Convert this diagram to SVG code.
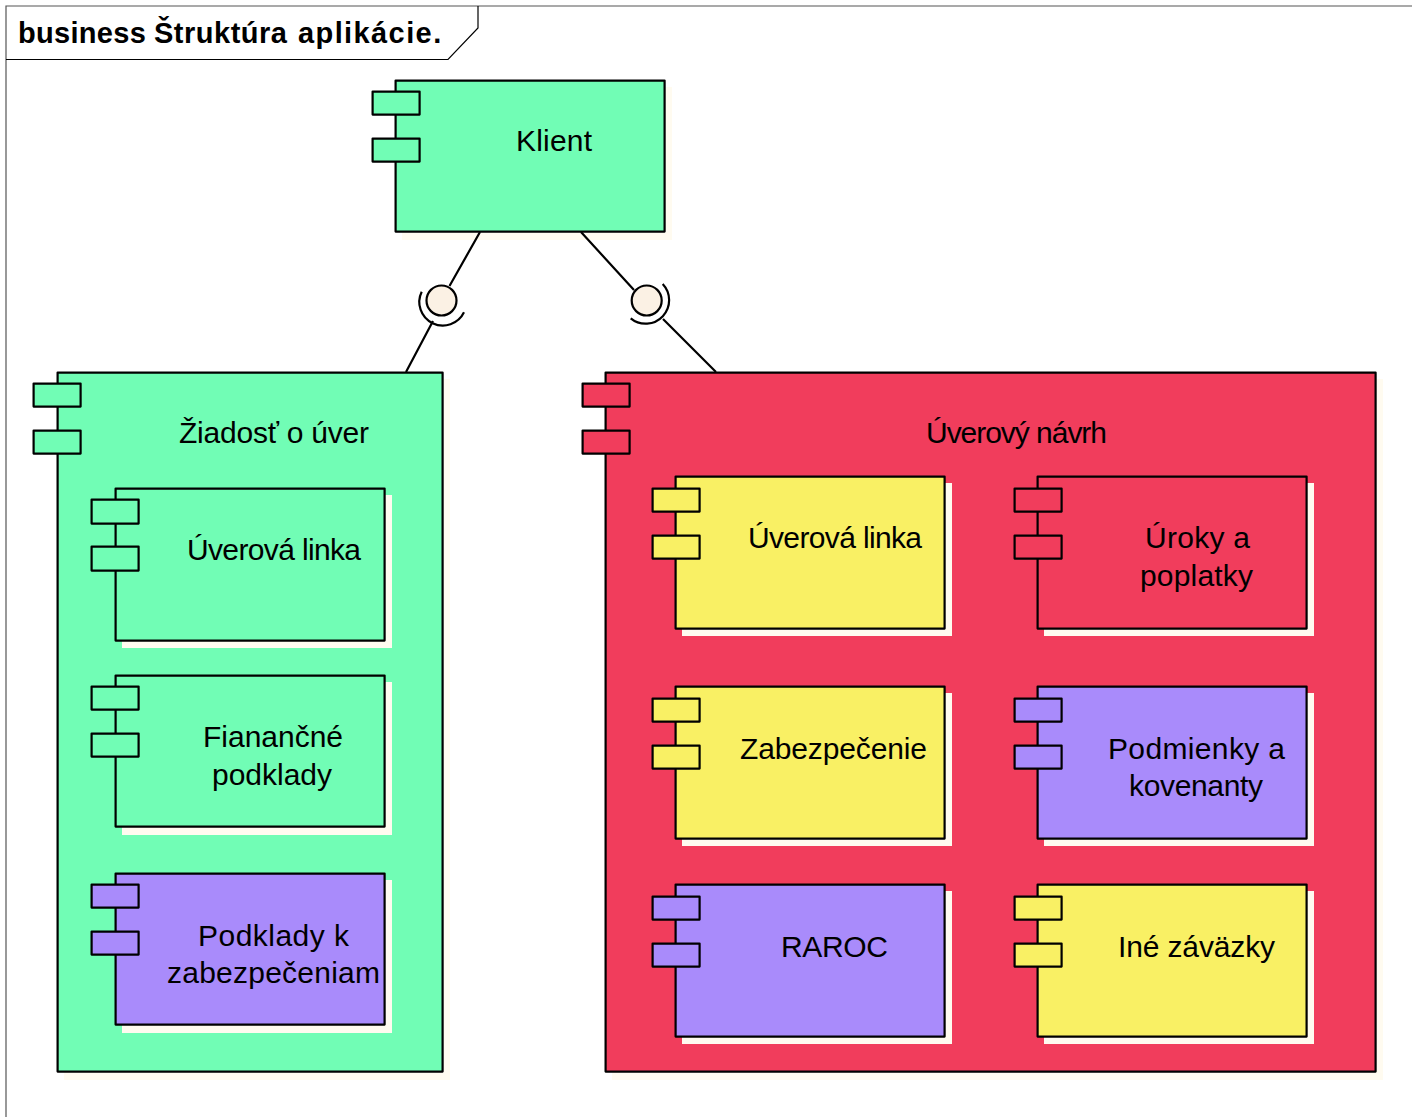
<svg xmlns="http://www.w3.org/2000/svg" width="1412" height="1117" viewBox="0 0 1412 1117">
<style>
text{font-family:"Liberation Sans",Arial,sans-serif;font-size:30px;fill:#000;text-anchor:middle}
.title{font-size:29px;font-weight:bold;text-anchor:start}
.b,.p{stroke:#000;stroke-width:2.2;stroke-linejoin:round;transform:translate(-.4px,-.4px)}
.s{fill:#FFFBF0}
.g{fill:#71FDB5}.r{fill:#F13D5C}.y{fill:#F9F064}.v{fill:#A98BFB}
.c{fill:none;stroke:#000;stroke-width:2.2}
.i{fill:#FBF1E4;stroke:#000;stroke-width:2.2}
.f{fill:none;stroke:#555;stroke-width:1.2}
.t{fill:none;stroke:#000;stroke-width:1.2}
</style>
<rect width="1412" height="1117" fill="#fff"/>
<g id="frame">
<path class="f" d="M1412 6H6V1117"/>
<path class="t" d="M6 59.500H448L478 28V6"/>
<text class="title" y="43"><tspan x="18" letter-spacing=".3">business</tspan> <tspan x="154" letter-spacing=".5">Štruktúra</tspan> <tspan x="298" letter-spacing="1.4">aplikácie.</tspan></text>
</g>
<g id="klient">
<rect class="s" x="402" y="87" width="270" height="153"/>
<rect class="b g" x="396" y="81" width="269" height="151"/>
<rect class="p g" x="373" y="92" width="47" height="23"/>
<rect class="p g" x="373" y="139" width="47" height="23"/>
<text x="554" y="151" textLength="76">Klient</text>
</g>
<g id="ziadost">
<rect class="s" x="64" y="379" width="386" height="701"/>
<rect class="b g" x="58" y="373" width="385" height="699"/>
<rect class="p g" x="34" y="384" width="47" height="23"/>
<rect class="p g" x="34" y="431" width="47" height="23"/>
<text x="274" y="443" textLength="190">Žiadosť o úver</text>
</g>
<g id="ziadost-linka">
<rect class="s" x="122" y="495" width="270" height="153"/>
<rect class="b g" x="116" y="489" width="269" height="152"/>
<rect class="p g" x="92" y="500" width="47" height="24"/>
<rect class="p g" x="92" y="547" width="47" height="24"/>
<text x="274" y="560" textLength="174">Úverová linka</text>
</g>
<g id="financne">
<rect class="s" x="122" y="682" width="270" height="153"/>
<rect class="b g" x="116" y="676" width="269" height="151"/>
<rect class="p g" x="92" y="687" width="47" height="23"/>
<rect class="p g" x="92" y="734" width="47" height="23"/>
<text x="273" y="747" textLength="140">Fianančné</text>
<text x="272" y="785" textLength="120">podklady</text>
</g>
<g id="podklady">
<rect class="s" x="122" y="880" width="270" height="153"/>
<rect class="b v" x="116" y="874" width="269" height="151"/>
<rect class="p v" x="92" y="885" width="47" height="23"/>
<rect class="p v" x="92" y="932" width="47" height="23"/>
<text x="273.500" y="946" textLength="151">Podklady k</text>
<text x="273.500" y="983" textLength="213">zabezpečeniam</text>
</g>
<g id="navrh">
<rect class="s" x="612" y="379" width="771" height="701"/>
<rect class="b r" x="606" y="373" width="770" height="699"/>
<rect class="p r" x="583" y="384" width="47" height="23"/>
<rect class="p r" x="583" y="431" width="47" height="23"/>
<text x="1016.500" y="443" textLength="181">Úverový návrh</text>
</g>
<g id="navrh-linka">
<rect class="s" x="682" y="483" width="270" height="153"/>
<rect class="b y" x="676" y="477" width="269" height="152"/>
<rect class="p y" x="653" y="489" width="47" height="23"/>
<rect class="p y" x="653" y="536" width="47" height="23"/>
<text x="835" y="548" textLength="174">Úverová linka</text>
</g>
<g id="uroky">
<rect class="s" x="1044" y="483" width="270" height="153"/>
<rect class="b r" x="1038" y="477" width="269" height="152"/>
<rect class="p r" x="1015" y="489" width="47" height="23"/>
<rect class="p r" x="1015" y="536" width="47" height="23"/>
<text x="1197.500" y="548" textLength="105">Úroky a</text>
<text x="1196.500" y="586" textLength="113">poplatky</text>
</g>
<g id="zabezpecenie">
<rect class="s" x="682" y="693" width="270" height="153"/>
<rect class="b y" x="676" y="687" width="269" height="152"/>
<rect class="p y" x="653" y="699" width="47" height="23"/>
<rect class="p y" x="653" y="746" width="47" height="23"/>
<text x="833.500" y="759" textLength="187">Zabezpečenie</text>
</g>
<g id="podmienky">
<rect class="s" x="1044" y="693" width="270" height="153"/>
<rect class="b v" x="1038" y="687" width="269" height="152"/>
<rect class="p v" x="1015" y="699" width="47" height="23"/>
<rect class="p v" x="1015" y="746" width="47" height="23"/>
<text x="1196.500" y="759" textLength="177">Podmienky a</text>
<text x="1196" y="796" textLength="134">kovenanty</text>
</g>
<g id="raroc">
<rect class="s" x="682" y="891" width="270" height="153"/>
<rect class="b v" x="676" y="885" width="269" height="152"/>
<rect class="p v" x="653" y="897" width="47" height="23"/>
<rect class="p v" x="653" y="944" width="47" height="23"/>
<text x="834.500" y="957" textLength="107">RAROC</text>
</g>
<g id="ine">
<rect class="s" x="1044" y="891" width="270" height="153"/>
<rect class="b y" x="1038" y="885" width="269" height="152"/>
<rect class="p y" x="1015" y="897" width="47" height="23"/>
<rect class="p y" x="1015" y="944" width="47" height="23"/>
<text x="1196.500" y="957" textLength="157">Iné záväzky</text>
</g>
<g id="connectors">
<path class="c" d="M480 232L449.500 286M433 321L406 372"/>
<path class="c" d="M581 232L634 290M663 319L716 372"/>
<path class="c" d="M421.700 291.700A23.500 23.500 0 0 0 464 312.300"/>
<path class="c" d="M662.700 284A23.500 23.500 0 0 1 630.700 318.300"/>
<circle class="i" cx="441.500" cy="300.500" r="15"/>
<circle class="i" cx="646.700" cy="300.500" r="15"/>
</g>
</svg>
